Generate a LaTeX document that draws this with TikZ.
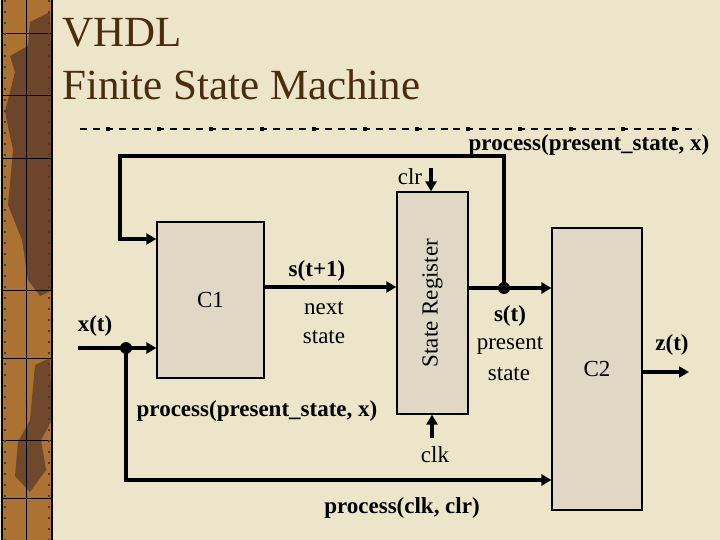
\documentclass[tikz,border=0pt]{standalone}
\usepackage{fontspec}
\setmainfont{Liberation Serif}
\usetikzlibrary{arrows.meta,calc}
\definecolor{bg}{RGB}{236,229,201}
\definecolor{boxfill}{RGB}{224,216,197}
\definecolor{barbrown}{RGB}{172,114,50}
\definecolor{bardark}{RGB}{98,62,42}
\definecolor{titlecol}{RGB}{74,44,14}
\begin{document}
\begin{tikzpicture}[x=1pt,y=-1pt,
  blk/.style={draw=black, line width=1.3pt, fill=boxfill, inner sep=0pt, font=\fontsize{23}{26}\selectfont},
  wire/.style={line width=4pt},
  arr/.style={wire, -{Triangle[length=10pt,width=11pt]}},
  lbl/.style={inner sep=0pt, font=\fontsize{23}{26}\selectfont},
  blbl/.style={inner sep=0pt, font=\fontsize{23}{26}\selectfont\bfseries},
  junc/.style={circle, fill=black, inner sep=0pt, minimum size=12pt},
  ttl/.style={inner sep=0pt, anchor=base west, text=titlecol, font=\fontsize{43}{50}\selectfont}
]
\useasboundingbox (0,0) rectangle (720,540);
\fill[bg] (0,0) rectangle (720,540);
% left decorative bar
\fill[barbrown] (2,0) rectangle (52,540);
\fill[bardark, opacity=0.85] (30,22) -- (50,12) -- (52,90) -- (52,290) -- (40,296) -- (28,280) -- (22,240) -- (8,205) -- (13,150) -- (5,112) -- (15,72) -- (10,56) -- (28,46) -- cycle;
\fill[bardark, opacity=0.8] (35,365) -- (50,358) -- (52,420) -- (41,440) -- (46,470) -- (30,492) -- (15,476) -- (18,442) -- (30,420) -- cycle;
\draw[black, line width=0.9pt] (26,0) -- (26,540);
\foreach \yy in {33,95,158,290,358,440,498} \draw[black, line width=0.9pt] (2,\yy) -- (52,\yy);
\draw[black!75, line width=2pt, dash pattern=on 2pt off 9pt] (5,0) -- (5,540);
\draw[black!75, line width=2pt, dash pattern=on 2pt off 9pt] (49,0) -- (49,540);
\draw[black, line width=1.5pt] (2,0) -- (2,540);
\draw[black, line width=1.5pt] (52,0) -- (52,540);
% title
\node[ttl] (t1) at (62,47) {VHDL};
\node[ttl] (t2) at (62,100) {Finite State Machine};
% dashed separator
\draw[black, line width=1.2pt, dash pattern=on 7pt off 5.875pt] (80,129) -- (698,129);
\foreach \i in {0,...,11} \fill[black] ({105.6+51.5*\i},127) rectangle +(4,4);
\node[blbl] (ptop) at (589,145) {process(present\_state, x)};
% boxes
\node[blk, minimum width=107pt, minimum height=156pt] (c1) at (210.5,300) {C1};
\node[blk, minimum width=71pt, minimum height=222pt] (sr) at (432.5,303) {\rotatebox{90}{State Register}};
\node[blk, minimum width=90pt, minimum height=282pt] (c2) at (597,369) {C2};
% coordinates
\coordinate (xin) at (78,348);
\coordinate (jx) at (126,348);
\coordinate (js) at (504,288);
\coordinate (lt) at (504,156);
\coordinate (ll) at (120,156);
\coordinate (lb) at (120,239);
\coordinate (s1) at (264,287);
\coordinate (clrt) at (431,168);
\coordinate (clkb) at (432,438);
\coordinate (bl) at (126,480);
\coordinate (zout) at (689,372);
% connectors
\draw[arr] (xin) -- (xin -| c1.west);
\draw[arr] (jx) -- (bl) -- (bl -| c2.west);
\draw[arr] (s1 -| c1.east) -- (s1 -| sr.west);
\draw[arr] (js -| sr.east) -- (js -| c2.west);
\draw[arr] (js) -- (lt) -- (ll) -- (lb) -- (lb -| c1.west);
\draw[arr] (clrt) -- (clrt |- sr.north);
\draw[arr] (clkb) -- (clkb |- sr.south);
\draw[arr] (c2.east |- zout) -- (zout);
\node[junc] (dx) at (jx) {};
\node[junc] (ds) at (js) {};
% labels
\node[blbl] (lx) at (95,326) {x(t)};
\node[blbl] (ls1) at (317,271) {s(t+1)};
\node[lbl] (lnext) at (324,308) {next};
\node[lbl] (lstate1) at (324,337) {state};
\node[blbl] (pmid) at (257,411) {process(present\_state, x)};
\node[lbl] (lclr) at (410,177) {clr};
\node[lbl] (lclk) at (435,455) {clk};
\node[blbl] (pclk) at (402,508) {process(clk, clr)};
\node[blbl] (lst) at (510,316) {s(t)};
\node[lbl] (lpres) at (510,345) {present};
\node[lbl] (lstate2) at (509,374) {state};
\node[blbl] (lz) at (672,345) {z(t)};
\end{tikzpicture}
\end{document}
